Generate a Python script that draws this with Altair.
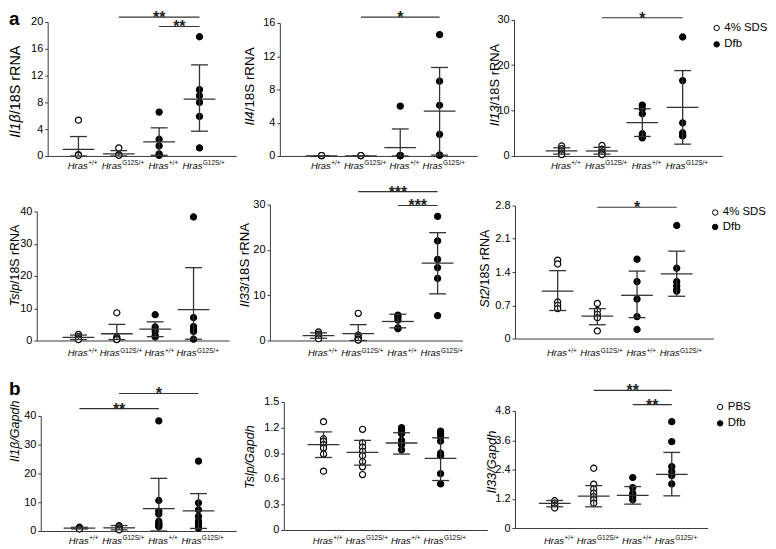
import altair as alt
import pandas as pd

# ---------------- data ----------------
GROUP_POS = [1, 2, 3, 4]
GENOTYPE_MAIN = ["Hras", "Hras", "Hras", "Hras"]
GENOTYPE_SUP = ["+/+", "G12S/+", "+/+", "G12S/+"]
GROUP_STYLE = ["open", "open", "filled", "filled"]
LEGEND_A = ["4% SDS", "Dfb"]
LEGEND_B = ["PBS", "Dfb"]

# a – Il1b/18S rRNA
IL1B_18S_PTS = [[5.35, 0.2, 0.1], [1.2, 0.25, 0.1], [6.55, 2.5, 1.5, 0.3, 0.1],
                [17.8, 9.9, 9.0, 8.0, 5.9, 1.2]]
IL1B_18S_MEAN = [1.0, 0.3, 2.1, 8.5]
IL1B_18S_LO = [0.0, 0.0, 0.1, 3.7]
IL1B_18S_HI = [2.9, 0.8, 4.2, 13.6]
IL1B_18S_SIG = [[2, 4, 20.74, "**"], [3, 4, 19.33, "**"]]

# a – Il4/18S rRNA
IL4_18S_PTS = [[0.05, 0.05, 0.05], [0.05, 0.05, 0.05], [6.0, 0.05, 0.05, 0.05, 0.05, 0.05],
               [14.6, 9.0, 6.1, 2.6, 0.1, 0.1]]
IL4_18S_MEAN = [0.0, 0.0, 1.0, 5.4]
IL4_18S_LO = [0.0, 0.0, 0.0, 0.1]
IL4_18S_HI = [0.0, 0.0, 3.25, 10.65]
IL4_18S_SIG = [[2, 4, 16.7, "*"]]

# a – Il13/18S rRNA
IL13_18S_PTS = [[2.2, 1.6, 1.1, 0.6, 0.3], [2.3, 1.5, 0.9, 0.5, 0.3],
                [11.2, 10.4, 9.3, 4.9, 4.3, 4.0], [26.2, 16.6, 7.3, 5.1, 4.5, 4.4]]
IL13_18S_MEAN = [1.1, 1.1, 7.35, 10.7]
IL13_18S_LO = [0.4, 0.4, 4.3, 2.6]
IL13_18S_HI = [1.8, 1.9, 10.4, 18.8]
IL13_18S_SIG = [[2, 4, 30.44, "*"]]

# a – Tslp/18S rRNA
TSLP_18S_PTS = [[1.9, 1.2, 0.6, 0.3], [8.6, 1.1, 0.6, 0.4, 0.3], [8.0, 4.2, 2.9, 1.5, 1.1],
                [38.3, 7.1, 4.3, 3.4, 2.8, 0.4]]
TSLP_18S_MEAN = [1.0, 2.1, 3.5, 9.6]
TSLP_18S_LO = [0.3, 0.3, 1.2, 0.4]
TSLP_18S_HI = [1.7, 5.0, 5.8, 22.6]
TSLP_18S_SIG = []

# a – Il33/18S rRNA
IL33_18S_PTS = [[1.9, 1.4, 1.0, 0.6, 0.4], [6.0, 1.2, 0.7, 0.3, 0.2, 0.1],
                [5.6, 5.1, 4.5, 2.8, 2.6], [27.4, 22.0, 17.9, 16.1, 13.7, 5.5]]
IL33_18S_MEAN = [1.1, 1.5, 4.2, 17.1]
IL33_18S_LO = [0.5, 0.0, 2.8, 10.3]
IL33_18S_HI = [1.7, 3.5, 5.8, 23.8]
IL33_18S_SIG = [[2, 4, 32.85, "***"], [3, 4, 29.8, "***"]]

# a – St2/18S rRNA
ST2_18S_PTS = [[1.65, 1.57, 0.77, 0.70, 0.63], [0.74, 0.59, 0.51, 0.44, 0.16],
               [1.67, 1.2, 0.83, 0.46, 0.19], [2.38, 1.48, 1.2, 1.11, 1.03, 1.0]]
ST2_18S_MEAN = [1.0, 0.47, 0.91, 1.36]
ST2_18S_LO = [0.59, 0.29, 0.44, 0.89]
ST2_18S_HI = [1.43, 0.63, 1.42, 1.84]
ST2_18S_SIG = [[2, 4, 2.765, "*"]]

# b – Il1b/Gapdh
IL1B_GAPDH_PTS = [[1.3, 1.1, 1.0, 0.8, 0.7], [1.9, 1.5, 1.0, 0.6, 0.4],
                  [38.3, 10.6, 6.9, 5.9, 3.4, 2.6, 2.2, 1.8, 1.5],
                  [24.3, 9.8, 7.4, 5.1, 3.5, 2.6, 1.8, 1.0]]
IL1B_GAPDH_MEAN = [1.0, 1.1, 7.8, 7.0]
IL1B_GAPDH_LO = [0.7, 0.4, 0.0, 0.9]
IL1B_GAPDH_HI = [1.3, 1.9, 18.3, 13.0]
IL1B_GAPDH_SIG = [[1, 3, 42.55, "**"], [2, 4, 47.8, "*"]]

# b – Tslp/Gapdh
TSLP_GAPDH_PTS = [[1.27, 1.07, 1.04, 1.0, 0.96, 0.89, 0.69],
                  [1.18, 1.02, 0.97, 0.92, 0.87, 0.8, 0.74, 0.65],
                  [1.2, 1.17, 1.13, 1.05, 1.0, 0.94],
                  [1.16, 1.13, 1.09, 1.04, 0.9, 0.87, 0.66, 0.54]]
TSLP_GAPDH_MEAN = [1.0, 0.91, 1.02, 0.84]
TSLP_GAPDH_LO = [0.85, 0.76, 0.89, 0.58]
TSLP_GAPDH_HI = [1.15, 1.05, 1.14, 1.08]
TSLP_GAPDH_SIG = []

# b – Il33/Gapdh
IL33_GAPDH_PTS = [[1.12, 1.02, 0.93, 0.82], [2.45, 1.8, 1.6, 1.43, 1.29, 1.16, 1.02],
                  [2.07, 1.66, 1.43, 1.29, 1.16], [4.36, 3.54, 2.52, 2.32, 2.15, 1.81]]
IL33_GAPDH_MEAN = [1.01, 1.31, 1.34, 2.2]
IL33_GAPDH_LO = [0.87, 0.87, 0.98, 1.32]
IL33_GAPDH_HI = [1.13, 1.74, 1.7, 3.1]
IL33_GAPDH_SIG = [[2, 4, 5.64, "**"], [3, 4, 5.06, "**"]]

# ---------------- layout (page pixels) ----------------
COLS = [8, 244, 494, 768]
ROWS = [8, 178, 368, 549]
AXC = "#3a3a3a"
BARC = "#333333"
FONT = "Liberation Sans"

PANELS = [
    [
        dict(d=(IL1B_18S_PTS, IL1B_18S_MEAN, IL1B_18S_LO, IL1B_18S_HI, IL1B_18S_SIG), leg=LEGEND_A,
             ax=47, ex=237, ty=20, by=155, ymax=20, ticks=[0, 4, 8, 12, 16, 20], gx=[78, 118, 159, 200],
             xl=168, title=("Il1β", "/18S rRNA"), tcx=15.5, tpv=113, tfs=14.5, tag=("a", 0, 0)),
        dict(d=(IL4_18S_PTS, IL4_18S_MEAN, IL4_18S_LO, IL4_18S_HI, IL4_18S_SIG), leg=LEGEND_A,
             ax=281, ex=480, ty=21, by=155, ymax=16, ticks=[0, 4, 8, 12, 16], gx=[323, 362, 402, 442],
             xl=168, title=("Il4", "/18S rRNA"), tcx=251, tpv=110, tfs=13.5),
        dict(d=(IL13_18S_PTS, IL13_18S_MEAN, IL13_18S_LO, IL13_18S_HI, IL13_18S_SIG), leg=LEGEND_A,
             ax=517, ex=727, ty=17.7, by=155, ymax=30, ticks=[0, 10, 20, 30], gx=[565, 603, 645, 687],
             xl=168, title=("Il13", "/18S rRNA"), tcx=497.5, tpv=104, tfs=13,
             legend=(221.5, 12.25, 3.5)),
    ],
    [
        dict(d=(TSLP_18S_PTS, TSLP_18S_MEAN, TSLP_18S_LO, TSLP_18S_HI, TSLP_18S_SIG), leg=LEGEND_A,
             ax=36, ex=230, ty=211, by=341, ymax=40, ticks=[0, 10, 20, 30, 40], gx=[78, 116, 155, 194],
             xl=357, title=("Tslp", "/18S rRNA"), tcx=14, tpv=284, tfs=12.5),
        dict(d=(IL33_18S_PTS, IL33_18S_MEAN, IL33_18S_LO, IL33_18S_HI, IL33_18S_SIG), leg=LEGEND_A,
             ax=271, ex=465, ty=204, by=341, ymax=30, ticks=[0, 10, 20, 30], gx=[320, 358, 399, 440],
             xl=357, title=("Il33", "/18S rRNA"), tcx=246, tpv=286, tfs=13.3),
        dict(d=(ST2_18S_PTS, ST2_18S_MEAN, ST2_18S_LO, ST2_18S_HI, ST2_18S_SIG), leg=LEGEND_A,
             ax=518, ex=718, ty=205, by=339, ymax=2.8, ticks=[0, 0.7, 1.4, 2.1, 2.8], gx=[561, 601, 641, 681],
             xl=357, title=("St2", "/18S rRNA"), tcx=488, tpv=289, tfs=12.5,
             legend=(220, 28.25, 1.5)),
    ],
    [
        dict(d=(IL1B_GAPDH_PTS, IL1B_GAPDH_MEAN, IL1B_GAPDH_LO, IL1B_GAPDH_HI, IL1B_GAPDH_SIG), leg=LEGEND_B,
             ax=40, ex=237, ty=417, by=533, ymax=40, ticks=[0, 10, 20, 30, 40], gx=[79, 118, 157, 199],
             xl=546, title=("Il1β/Gapdh",), tcx=14, tpv=432.5, tfs=12.6, tag=("b", 0, 13)),
        dict(d=(TSLP_GAPDH_PTS, TSLP_GAPDH_MEAN, TSLP_GAPDH_LO, TSLP_GAPDH_HI, TSLP_GAPDH_SIG), leg=LEGEND_B,
             ax=285, ex=490, ty=403, by=532, ymax=1.5, ticks=[0, 0.3, 0.6, 0.9, 1.2, 1.5],
             gx=[325, 363, 403, 443], xl=546, title=("Tslp/Gapdh",), tcx=251, tpv=458.5, tfs=12.6),
        dict(d=(IL33_GAPDH_PTS, IL33_GAPDH_MEAN, IL33_GAPDH_LO, IL33_GAPDH_HI, IL33_GAPDH_SIG), leg=LEGEND_B,
             ax=518, ex=712, ty=412, by=530, ymax=4.8, ticks=[0, 1.2, 2.4, 3.6, 4.8], gx=[558, 598, 638, 676],
             xl=546, title=("Il33/Gapdh",), tcx=495, tpv=463.5, tfs=13,
             legend=(225, 34.25, 3.5)),
    ],
]

DUMMY = pd.DataFrame({"k": [0]})


def make_panel(p, col, row):
    X0, X1 = COLS[col], COLS[col + 1]
    Y0, Y1 = ROWS[row], ROWS[row + 1]
    W, H = X1 - X0, Y1 - Y0
    pts, mean, lo, hi, sig = p["d"]
    leg = p["leg"]
    gx = p["gx"]
    step = (gx[3] - gx[0]) / 3.0
    d0 = 1 - (gx[0] - p["ax"]) / step
    d1 = 4 + (p["ex"] - gx[3]) / step
    xs = alt.Scale(domain=[d0, d1], range=[p["ax"] - X0, p["ex"] - X0], nice=False, zero=False)
    ys = alt.Scale(domain=[0, p["ymax"]], range=[p["by"] - Y0, p["ty"] - Y0], nice=False, zero=False)
    xaxis = alt.Axis(title=None, labels=False, ticks=False, grid=False, domainColor=AXC,
                     domainWidth=1, offset=-(Y1 - p["by"]))
    yaxis = alt.Axis(title=None, values=p["ticks"], format=".2~g", grid=False, domainColor=AXC,
                     domainWidth=1, tickColor=AXC, tickSize=3, tickWidth=1, labelFontSize=11,
                     labelColor="black", labelPadding=2, offset=-(p["ax"] - X0))

    def X(f):
        return alt.X(f, type="quantitative", scale=xs, axis=xaxis)

    def Y(f):
        return alt.Y(f, type="quantitative", scale=ys, axis=yaxis)

    rows = []
    for g, vals, st in zip(GROUP_POS, pts, GROUP_STYLE):
        for v in vals:
            rows.append({"x": g, "v": v, "t": leg[0] if st == "open" else leg[1]})
    pdf = pd.DataFrame(rows)
    sdf = pd.DataFrame({"x": GROUP_POS, "mean": mean, "lo": lo, "hi": hi})

    if "legend" in p:
        lx, ly, rp = p["legend"]
        legend = alt.Legend(orient="none", legendX=lx, legendY=ly, title=None, symbolType="circle",
                            symbolSize=30, symbolStrokeColor="black", symbolStrokeWidth=1,
                            labelFontSize=11.5, labelColor="black", labelOffset=2, rowPadding=rp,
                            padding=0, labelFont=FONT)
    else:
        legend = None

    layers = []
    layers.append(alt.Chart(pdf).mark_point(filled=True, size=38, stroke="black", strokeWidth=1.2,
                                            opacity=1).encode(
        x=X("x"), y=Y("v"),
        fill=alt.Fill("t:N", scale=alt.Scale(domain=leg, range=["white", "black"]), legend=legend)))
    layers.append(alt.Chart(sdf).mark_rule(color=BARC, strokeWidth=1.3).encode(
        x=X("x"), y=Y("lo"), y2=alt.Y2("hi")))
    layers.append(alt.Chart(sdf).mark_tick(orient="horizontal", size=32, thickness=1.3, color=BARC,
                                           opacity=1).encode(x=X("x"), y=Y("mean")))
    for fld in ["lo", "hi"]:
        layers.append(alt.Chart(sdf).mark_tick(orient="horizontal", size=17, thickness=1.3, color=BARC,
                                               opacity=1).encode(x=X("x"), y=Y(fld)))
    if sig:
        gdf = pd.DataFrame({"x1": [s[0] for s in sig], "x2": [s[1] for s in sig],
                            "xm": [(s[0] + s[1]) / 2 for s in sig], "y": [s[2] for s in sig],
                            "s": [s[3] for s in sig]})
        layers.append(alt.Chart(gdf).mark_rule(color=BARC, strokeWidth=1.2).encode(
            x=X("x1"), x2=alt.X2("x2"), y=Y("y")))
        layers.append(alt.Chart(gdf).mark_text(baseline="top", dy=-7, fontSize=16, fontWeight="bold",
                                               color="#222").encode(x=X("xm"), y=Y("y"), text="s:N"))
    # genotype labels
    ldf = pd.DataFrame({"x": GROUP_POS, "main": GENOTYPE_MAIN, "sup": GENOTYPE_SUP})
    for supv, dxm in [("+/+", 9.3), ("G12S/+", 2.9)]:
        sub = ldf[ldf["sup"] == supv]
        layers.append(alt.Chart(sub).mark_text(align="right", baseline="alphabetic", fontStyle="italic",
                                               fontSize=9.5, dx=dxm, color="black").encode(
            x=X("x"), y=alt.value(p["xl"] - Y0), text="main:N"))
        layers.append(alt.Chart(sub).mark_text(align="left", baseline="alphabetic", fontSize=6.5,
                                               dx=dxm + 0.5, dy=-3.5, color="black").encode(
            x=X("x"), y=alt.value(p["xl"] - Y0), text="sup:N"))
    # y-axis title (italic gene + plain rest)
    t = p["title"]
    if len(t) == 2:
        layers.append(alt.Chart(DUMMY).mark_text(text=t[0], angle=270, align="right", baseline="middle",
                                                 fontStyle="italic", fontSize=p["tfs"], color="black").encode(
            x=alt.value(p["tcx"] - X0), y=alt.value(p["tpv"] - Y0)))
        layers.append(alt.Chart(DUMMY).mark_text(text=t[1], angle=270, align="left", baseline="middle",
                                                 fontSize=p["tfs"], color="black").encode(
            x=alt.value(p["tcx"] - X0), y=alt.value(p["tpv"] - Y0)))
    else:
        layers.append(alt.Chart(DUMMY).mark_text(text=t[0], angle=270, align="center", baseline="middle",
                                                 fontStyle="italic", fontSize=p["tfs"], color="black").encode(
            x=alt.value(p["tcx"] - X0), y=alt.value(p["tpv"] - Y0)))
    if "tag" in p:
        tg, tx, ty = p["tag"]
        layers.append(alt.Chart(DUMMY).mark_text(text=tg, align="left", baseline="top", fontSize=19,
                                                 fontWeight="bold", color="black").encode(
            x=alt.value(tx), y=alt.value(ty)))
    return alt.layer(*layers).properties(width=W, height=H)


cells = []
for r, row in enumerate(PANELS):
    for c, p in enumerate(row):
        cells.append(make_panel(p, c, r))

chart = alt.concat(*cells, columns=3, spacing=0, bounds="flush", align="each").resolve_scale(
    fill="independent").properties(padding=0).configure(
    font=FONT, view=alt.ViewConfig(stroke=None))

chart.save("out.html", embed_options={"renderer": "svg", "actions": False})
